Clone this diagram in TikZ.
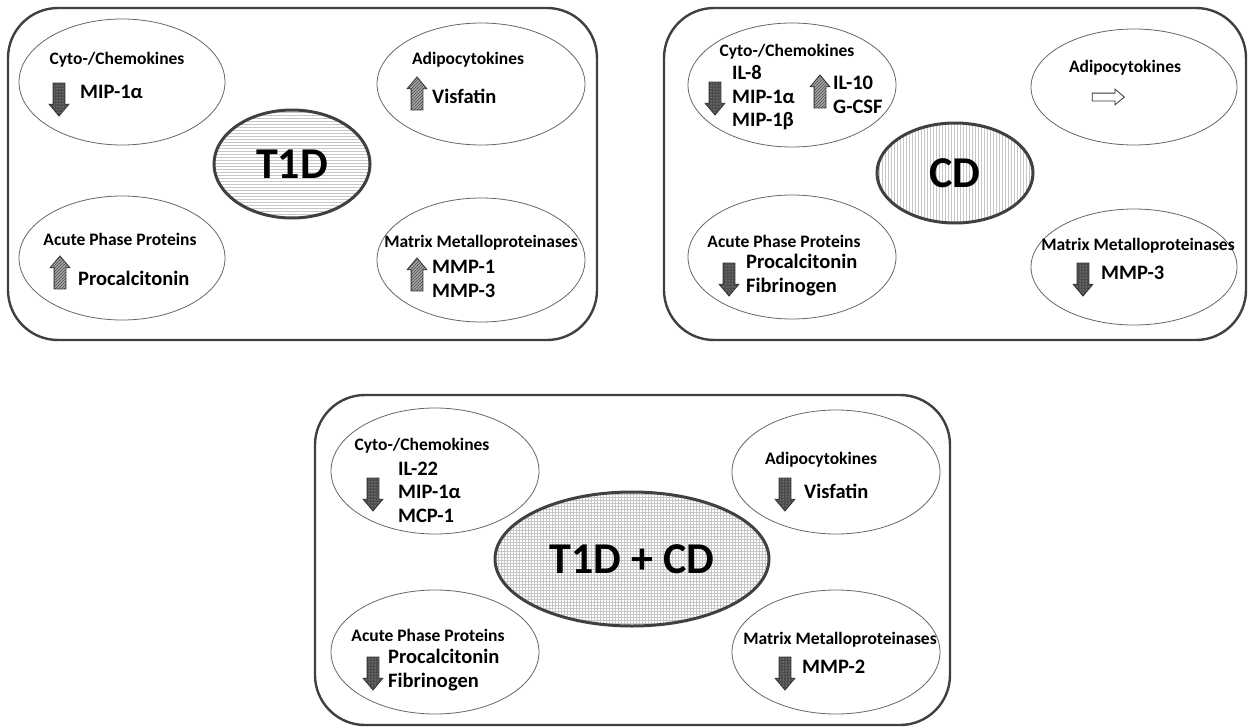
\documentclass[tikz,border=0pt]{standalone}
\usepackage{fontspec}
\setmainfont{Carlito}
\usetikzlibrary{shapes.geometric, shapes.arrows, patterns, positioning}

\begin{document}
\begin{tikzpicture}[x=1pt, y=-1pt,
  panel/.style={draw=black!75, line width=2.4pt, rounded corners=50pt},
  group/.style={ellipse, draw=black!60, line width=0.8pt, fill=white, inner sep=0pt},
  disease/.style={ellipse, draw=black!75, line width=3pt, inner sep=0pt,
    preaction={fill=white}, pattern color=black!22,
    font=\fontsize{44}{48}\selectfont\bfseries},
  lbl/.style={font=\fontsize{17.5}{19}\selectfont\bfseries, inner sep=0pt},
  item/.style={font=\fontsize{20.5}{23.5}\selectfont\bfseries, inner sep=0pt,
    align=left, anchor=west},
  blk/.style={single arrow, draw=black!80, line width=0.8pt, inner sep=5.5pt,
    minimum height=33pt, single arrow head extend=4pt, single arrow tip angle=80},
  dn/.style={blk, shape border rotate=270, preaction={fill=black!70},
    pattern=dots, pattern color=white!85!black},
  up/.style={blk, shape border rotate=90, preaction={fill=black!35},
    pattern=north east lines, pattern color=black!70},
  side/.style={single arrow, draw=black!80, line width=0.8pt, fill=white,
    inner sep=3.5pt, minimum height=32pt, single arrow head extend=4pt,
    single arrow tip angle=80}
]
\useasboundingbox (0,0) rectangle (1251,728);

% T1D
\draw[panel] (8,8) rectangle (597,340);
\node[group, minimum width=206pt, minimum height=126pt] (t1d-cyto) at (122,82) {};
\node[group, minimum width=206pt, minimum height=124pt] (t1d-acute) at (122,258) {};
\node[group, minimum width=208pt, minimum height=122pt] (t1d-adipo) at (481,84) {};
\node[group, minimum width=208pt, minimum height=124pt] (t1d-mmp) at (481,260) {};
\node[disease, pattern=horizontal lines, minimum width=156pt, minimum height=108pt]
  (t1d) at (292,164) {T1D};
\node[lbl] (t1d-cyto-l) at (117,60) {Cyto-/Chemokines};
\node[dn] (t1d-cyto-a) at (59,96) {};
\node[item] (t1d-cyto-i) at (80,92) {MIP-1α};
\node[lbl] (t1d-acute-l) at (120,239) {Acute Phase Proteins};
\node[up] (t1d-acute-a) at (60,276) {};
\node[item] (t1d-acute-i) at (78,278) {Procalcitonin};
\node[lbl] (t1d-adipo-l) at (468,60) {Adipocytokines};
\node[up] (t1d-adipo-a) at (417,97) {};
\node[item] (t1d-adipo-i) at (432,96) {Visfatin};
\node[lbl] (t1d-mmp-l) at (481,243) {Matrix Metalloproteinases};
\node[up] (t1d-mmp-a) at (417,278) {};
\node[item] (t1d-mmp-i) at (432,279) {MMP-1\\MMP-3};

% CD
\draw[panel] (664,8) rectangle (1246,340);
\node[group, minimum width=208pt, minimum height=124pt] (cd-cyto) at (792,85) {};
\node[group, minimum width=208pt, minimum height=124pt] (cd-acute) at (792,257) {};
\node[group, minimum width=206pt, minimum height=116pt] (cd-adipo) at (1134,87) {};
\node[group, minimum width=206pt, minimum height=116pt] (cd-mmp) at (1134,267) {};
\node[disease, pattern=vertical lines, minimum width=156pt, minimum height=100pt]
  (cd) at (955,173) {CD};
\node[lbl] (cd-cyto-l) at (787,52) {Cyto-/Chemokines};
\node[dn] (cd-cyto-a) at (715,95) {};
\node[item] (cd-cyto-i) at (732,98) {IL-8\\MIP-1α\\MIP-1β};
\node[up] (cd-cyto-b) at (820,95) {};
\node[item] (cd-cyto-j) at (833,95) {IL-10\\G-CSF};
\node[lbl] (cd-adipo-l) at (1125,68) {Adipocytokines};
\node[side] (cd-adipo-a) at (1106,97) {};
\node[lbl] (cd-acute-l) at (784,241) {Acute Phase Proteins};
\node[dn] (cd-acute-a) at (729,276) {};
\node[item] (cd-acute-i) at (746,275) {Procalcitonin\\Fibrinogen};
\node[lbl] (cd-mmp-l) at (1138,246) {Matrix Metalloproteinases};
\node[dn] (cd-mmp-a) at (1083,276) {};
\node[item] (cd-mmp-i) at (1101,273) {MMP-3};

% T1D + CD
\draw[panel] (315,395) rectangle (950,725);
\node[group, minimum width=208pt, minimum height=126pt] (both-cyto) at (435,471) {};
\node[group, minimum width=208pt, minimum height=124pt] (both-acute) at (435,652) {};
\node[group, minimum width=208pt, minimum height=124pt] (both-adipo) at (836,472) {};
\node[group, minimum width=208pt, minimum height=124pt] (both-mmp) at (836,652) {};
\node[disease, pattern=grid, minimum width=274pt, minimum height=134pt]
  (both) at (632,559) {T1D + CD};
\node[lbl] (both-cyto-l) at (422,446) {Cyto-/Chemokines};
\node[dn] (both-cyto-a) at (373,491) {};
\node[item] (both-cyto-i) at (398,492) {IL-22\\MIP-1α\\MCP-1};
\node[lbl] (both-adipo-l) at (821,460) {Adipocytokines};
\node[dn] (both-adipo-a) at (785,491) {};
\node[item] (both-adipo-i) at (804,491) {Visfatin};
\node[lbl] (both-acute-l) at (428,635) {Acute Phase Proteins};
\node[dn] (both-acute-a) at (373,670) {};
\node[item] (both-acute-i) at (388,670) {Procalcitonin\\Fibrinogen};
\node[lbl] (both-mmp-l) at (840,640) {Matrix Metalloproteinases};
\node[dn] (both-mmp-a) at (785,670) {};
\node[item] (both-mmp-i) at (802,667) {MMP-2};
\end{tikzpicture}
\end{document}
